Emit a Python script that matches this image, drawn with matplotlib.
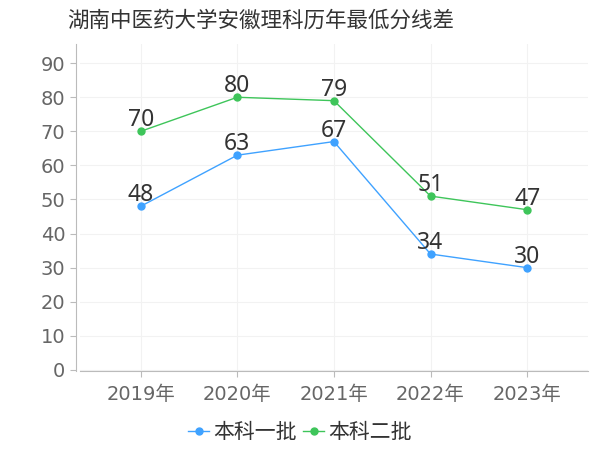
import matplotlib.pyplot as plt

plt.rcParams['font.family'] = ['DejaVu Sans', 'Noto Sans CJK SC']

years = ['2019年', '2020年', '2021年', '2022年', '2023年']
batch1 = [48, 63, 67, 34, 30]
batch2 = [70, 80, 79, 51, 47]
names = ['本科一批', '本科二批']
colors = ['#3fa2ff', '#3ec55a']

fig = plt.figure(figsize=(6, 4.5), dpi=100)
ax = fig.add_axes([0.133, 0.175, 0.847, 0.727])

x = list(range(len(years)))
for vals, name, c in zip([batch1, batch2], names, colors):
    ax.plot(x, vals, color=c, lw=1, marker='o', ms=5, label=name)
    for xi, v in zip(x, vals):
        ax.annotate(str(v), (xi, v), xytext=(0, 3.5), textcoords='offset points',
                    ha='center', va='baseline', fontsize=16.5, color='#333333',
                    family=['Noto Sans'])

ax.set_xlim(-0.63, 4.63)
ax.set_ylim(-0.4, 95.6)
ax.set_yticks(range(0, 91, 10))
ax.set_xticks(x)
ax.set_xticklabels(years)
ax.grid(True, color='#f2f2f2', lw=0.8)
ax.set_axisbelow(True)
for s in ['top', 'right']:
    ax.spines[s].set_visible(False)
ax.spines['left'].set_color('#bbbbbb')
ax.spines['bottom'].set_color('#bbbbbb')
ax.spines['left'].set_position(('outward', 3))
ax.tick_params(axis='both', colors='#bbbbbb', labelcolor='#666666', labelsize=14, length=4)
ax.tick_params(axis='x', pad=6)

fig.text(0.435, 0.955, '湖南中医药大学安徽理科历年最低分线差', ha='center', va='center',
         fontsize=15.5, color='#333333', family=['Noto Sans CJK SC'])

ax.legend(loc='center', bbox_to_anchor=(0.5, 0.04), bbox_transform=fig.transFigure,
          ncol=2, frameon=False, labelcolor='#333333',
          handlelength=1.0, handletextpad=0.2, columnspacing=0.3,
          prop={'family': ['Noto Sans CJK SC'], 'size': 15})

fig.savefig('out.png', dpi=100)
